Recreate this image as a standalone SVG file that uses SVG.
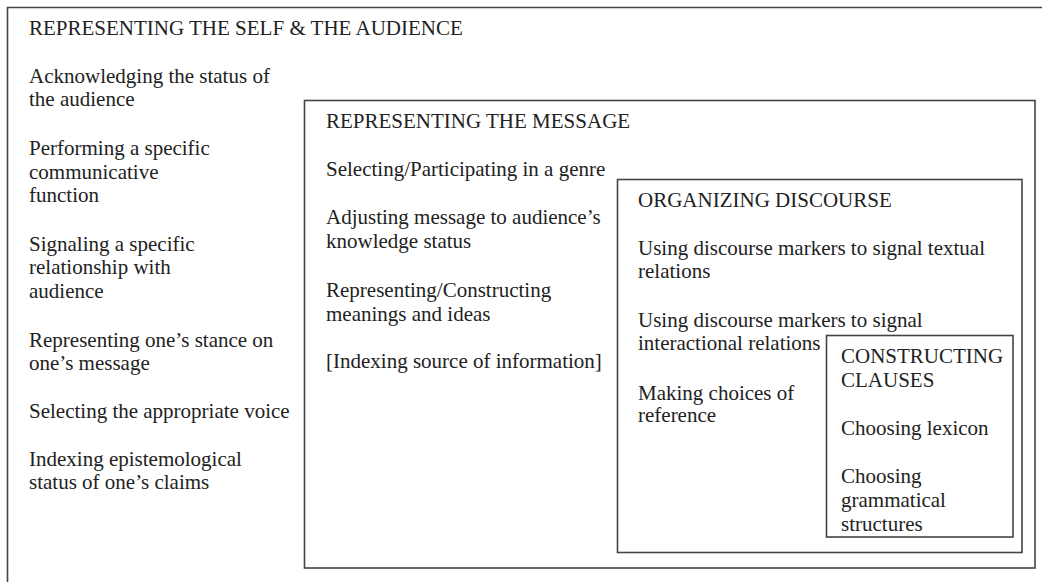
<svg xmlns="http://www.w3.org/2000/svg" width="1042" height="582" viewBox="0 0 1042 582">
<style>
.box{fill:none;stroke:#444;stroke-width:1.6}
text{font-family:"Liberation Serif","Times New Roman",serif;font-size:21px;fill:#222}
</style>
<rect width="1042" height="582" fill="#fff"/>
<g id="self-audience">
<path class="box" d="M7.5,590 V7.5 H1050"/>
<text x="29" y="35">REPRESENTING THE SELF &amp; THE AUDIENCE</text>
<text x="29" y="83">Acknowledging the status of</text>
<text x="29" y="106">the audience</text>
<text x="29" y="155">Performing a specific</text>
<text x="29" y="179">communicative</text>
<text x="29" y="202">function</text>
<text x="29" y="251">Signaling a specific</text>
<text x="29" y="274">relationship with</text>
<text x="29" y="298">audience</text>
<text x="29" y="347">Representing one’s stance on</text>
<text x="29" y="370">one’s message</text>
<text x="29" y="418">Selecting the appropriate voice</text>
<text x="29" y="466">Indexing epistemological</text>
<text x="29" y="489">status of one’s claims</text>
</g>
<g id="message">
<rect class="box" x="304.5" y="100.5" width="730.5" height="467.5"/>
<text x="326" y="128">REPRESENTING THE MESSAGE</text>
<text x="326" y="176">Selecting/Participating in a genre</text>
<text x="326" y="224">Adjusting message to audience’s</text>
<text x="326" y="248">knowledge status</text>
<text x="326" y="297">Representing/Constructing</text>
<text x="326" y="321">meanings and ideas</text>
<text x="326" y="368">[Indexing source of information]</text>
</g>
<g id="discourse">
<rect class="box" x="617.5" y="179.5" width="404.5" height="373"/>
<text x="638" y="207">ORGANIZING DISCOURSE</text>
<text x="638" y="255">Using discourse markers to signal textual</text>
<text x="638" y="278">relations</text>
<text x="638" y="327">Using discourse markers to signal</text>
<text x="638" y="350">interactional relations</text>
<text x="638" y="400">Making choices of</text>
<text x="638" y="422">reference</text>
</g>
<g id="clauses">
<rect class="box" x="826.5" y="335.5" width="186.5" height="201.5"/>
<text x="841" y="363">CONSTRUCTING</text>
<text x="841" y="387">CLAUSES</text>
<text x="841" y="435">Choosing lexicon</text>
<text x="841" y="483">Choosing</text>
<text x="841" y="507">grammatical</text>
<text x="841" y="531">structures</text>
</g>
<g id="connectors"/>
</svg>
